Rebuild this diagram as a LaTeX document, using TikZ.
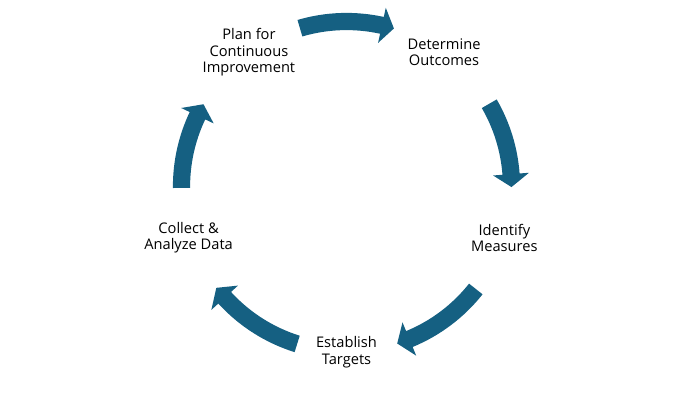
\documentclass[tikz,border=0pt]{standalone}
\usepackage{fontspec}
\setmainfont{Open Sans}
\usepackage{tikz}
\definecolor{cycleblue}{HTML}{156082}
% #1 tail angle, #2 head base angle, #3 tip angle
\newcommand{\arcarrow}[3]{%
	\fill [cycleblue] (#1:173.6) arc [start angle=#1, end angle=#2, radius=173.6]
		-- (#2:183) -- (#3:165) -- (#2:147) -- (#2:156.4)
		arc [start angle=#2, end angle=#1, radius=156.4] -- cycle;}

\begin{document}
\begin{tikzpicture}[x=0.03cm, y=0.03cm, every node/.style={align=center, font=\fontsize{12.5}{14.2}\selectfont}]
		\useasboundingbox (0, 0) rectangle (693, 404);
		\begin{scope}[shift={(346.5, 217.5)}]
		\node (outcomes) at (54:166) {Determine\\Outcomes};
		\node (measures) at (-18:166) {Identify\\Measures};
		\node (targets) at (-90:166) {Establish\\Targets};
		\node (data) at (-162:166) {Collect \&\\Analyze Data};
		\node (plan) at (126:166) {Plan for\\Continuous\\Improvement};
		
		\arcarrow{106.4}{77.6}{73.3}
		\arcarrow{30.1}{4.3}{-0.2}
		\arcarrow{-38.4}{-67.6}{-72.1}
		\arcarrow{-107.4}{-137.6}{-142.1}
		\arcarrow{180.5}{154.6}{150.1}
		\end{scope}
		\end{tikzpicture}
\end{document}
